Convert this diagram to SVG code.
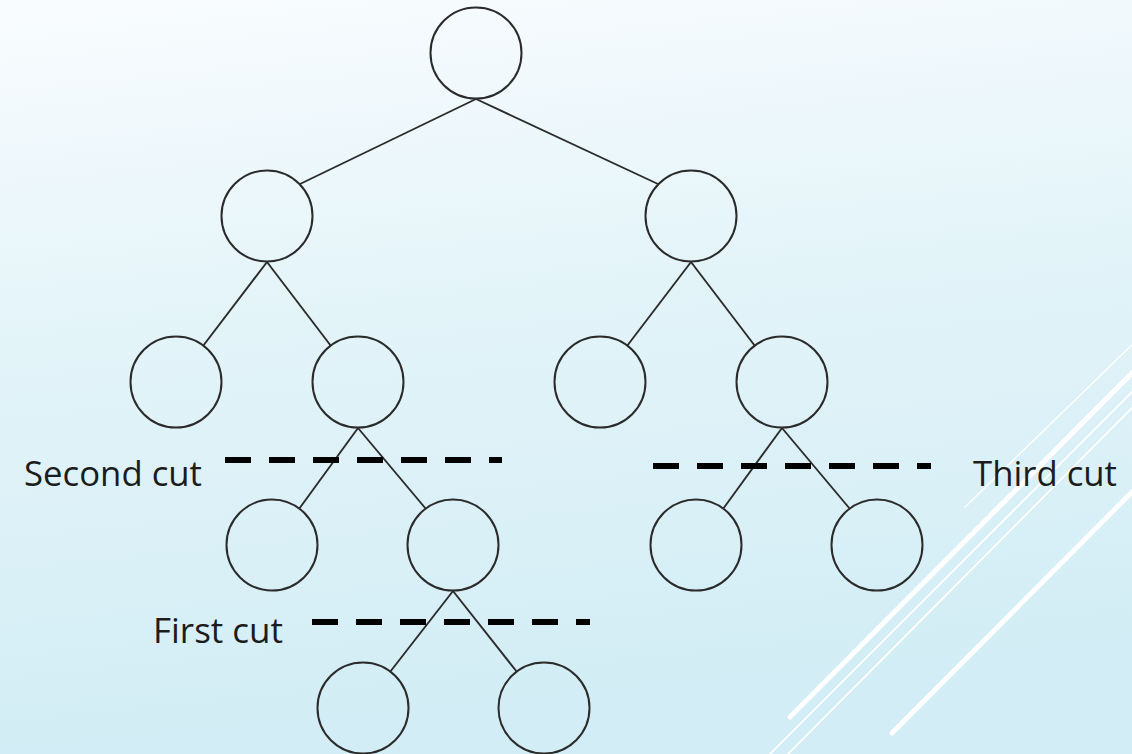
<svg xmlns="http://www.w3.org/2000/svg" width="1132" height="754" viewBox="0 0 1132 754">
  <defs>
    <linearGradient id="bg" x1="0" y1="0" x2="0.15" y2="1">
      <stop offset="0" stop-color="#f9fcfe"/>
      <stop offset="0.45" stop-color="#e3f4f9"/>
      <stop offset="1" stop-color="#d2edf5"/>
    </linearGradient>
    <style>
      .node { fill: none; stroke: #2b2b2b; stroke-width: 2; }
      .edge { stroke: #2b2b2b; stroke-width: 1.9; fill: none; }
      .cut { stroke: #000; stroke-width: 6; stroke-dasharray: 26 18; fill: none; }
      .label { font-family: "Open Sans", "Liberation Sans", sans-serif; font-size: 34px; fill: #1c1c1c; }
      .deco { stroke: #ffffff; fill: none; stroke-linecap: round; }
    </style>
  </defs>

  <rect width="1132" height="754" fill="url(#bg)"/>

  <!-- decorative diagonal strokes, lower right -->
  <g id="decoration">
    <line class="deco" x1="1140" y1="337" x2="965" y2="507" stroke-width="1.5"/>
    <line class="deco" x1="1140" y1="365" x2="790" y2="717" stroke-width="5"/>
    <line class="deco" x1="1140" y1="384" x2="767" y2="757" stroke-width="1.8"/>
    <line class="deco" x1="1140" y1="400" x2="785" y2="757" stroke-width="1.8"/>
    <line class="deco" x1="1140" y1="484" x2="892" y2="733" stroke-width="5"/>
  </g>

  <!-- tree edges: parent bottom to child rim -->
  <g id="connectors">
    <line class="edge" x1="476" y1="99" x2="300" y2="184"/>
    <line class="edge" x1="476" y1="99" x2="658" y2="184"/>
    <line class="edge" x1="267" y1="262" x2="203" y2="346"/>
    <line class="edge" x1="267" y1="262" x2="331" y2="346"/>
    <line class="edge" x1="691" y1="262" x2="627" y2="346"/>
    <line class="edge" x1="691" y1="262" x2="755" y2="346"/>
    <line class="edge" x1="358" y1="428" x2="299" y2="509"/>
    <line class="edge" x1="358" y1="428" x2="426" y2="509"/>
    <line class="edge" x1="782" y1="428" x2="723" y2="509"/>
    <line class="edge" x1="782" y1="428" x2="850" y2="509"/>
    <line class="edge" x1="453" y1="591" x2="390" y2="672"/>
    <line class="edge" x1="453" y1="591" x2="517" y2="672"/>
  </g>

  <g id="n0"><circle class="node" cx="476" cy="53" r="45.5"/></g>
  <g id="n1"><circle class="node" cx="267" cy="216" r="45.5"/></g>
  <g id="n2"><circle class="node" cx="691" cy="216" r="45.5"/></g>
  <g id="n3"><circle class="node" cx="176" cy="382" r="45.5"/></g>
  <g id="n4"><circle class="node" cx="358" cy="382" r="45.5"/></g>
  <g id="n5"><circle class="node" cx="600" cy="382" r="45.5"/></g>
  <g id="n6"><circle class="node" cx="782" cy="382" r="45.5"/></g>
  <g id="n7"><circle class="node" cx="272" cy="545" r="45.5"/></g>
  <g id="n8"><circle class="node" cx="453" cy="545" r="45.5"/></g>
  <g id="n9"><circle class="node" cx="696" cy="545" r="45.5"/></g>
  <g id="n10"><circle class="node" cx="877" cy="545" r="45.5"/></g>
  <g id="n11"><circle class="node" cx="363" cy="708" r="45.5"/></g>
  <g id="n12"><circle class="node" cx="544" cy="708" r="45.5"/></g>

  <!-- cut lines with their labels -->
  <g id="cut-second">
    <line class="cut" x1="225" y1="460" x2="502" y2="460"/>
    <text class="label" x="24" y="486" textLength="178" lengthAdjust="spacingAndGlyphs">Second cut</text>
  </g>
  <g id="cut-third">
    <line class="cut" x1="653" y1="466" x2="931" y2="466"/>
    <text class="label" x="973" y="486" textLength="144" lengthAdjust="spacingAndGlyphs">Third cut</text>
  </g>
  <g id="cut-first">
    <line class="cut" x1="312" y1="622" x2="590" y2="622"/>
    <text class="label" x="153" y="643" textLength="130" lengthAdjust="spacingAndGlyphs">First cut</text>
  </g>
</svg>
